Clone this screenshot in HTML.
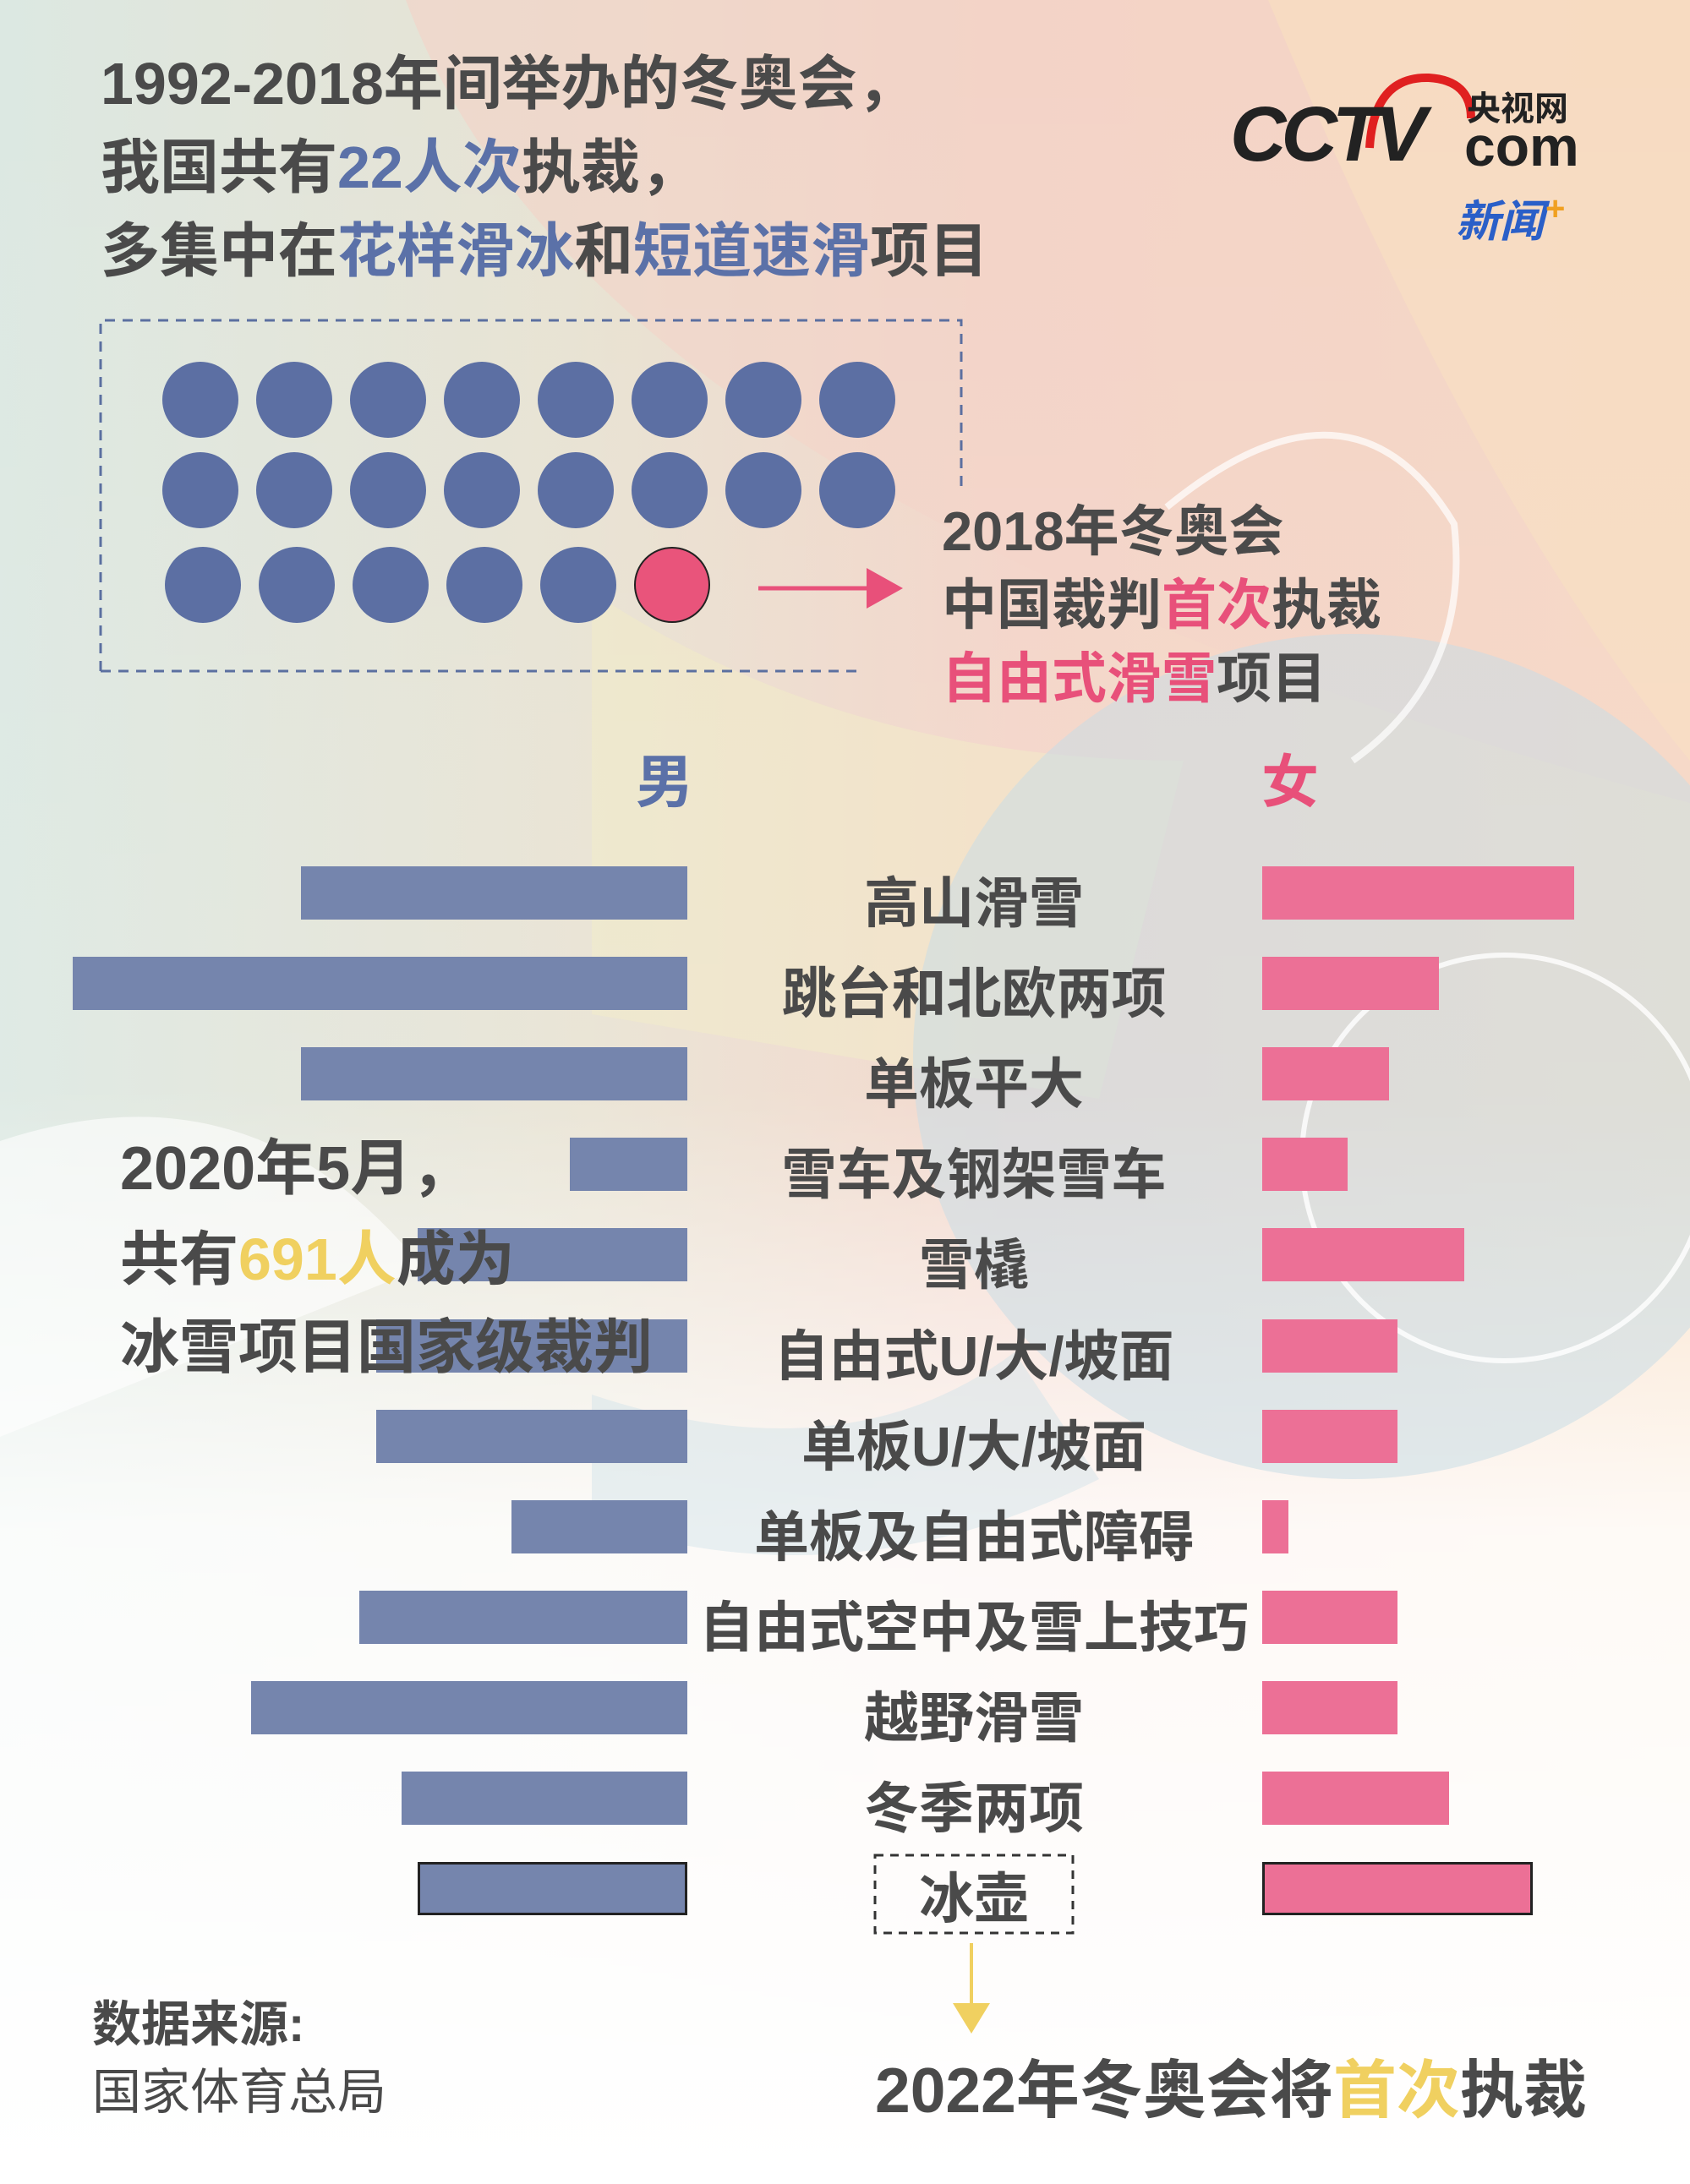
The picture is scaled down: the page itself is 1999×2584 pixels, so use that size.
<!DOCTYPE html>
<html><head><meta charset="utf-8"><style>
*{margin:0;padding:0;box-sizing:border-box}
body{width:1999px;height:2584px;position:relative;overflow:hidden;font-family:"Liberation Sans","Noto Sans CJK SC",sans-serif;font-weight:bold;color:#4a4a4a;background:#f4f6f6}
.a{position:absolute;white-space:nowrap}
.bg{position:absolute;inset:0}
.dot{position:absolute;width:90px;height:90px;border-radius:50%;background:#5c6fa3}
.bm{position:absolute;height:63px;background:#7585ad}
.bf{position:absolute;height:63px;background:#ec7096;left:1493px}
.lb{position:absolute;font-size:65px;width:800px;left:752px;text-align:center;line-height:63px}
.b{color:#5b71a8}.p{color:#e8507a}.y{color:#f0d060}
</style></head><body>
<svg class="bg" width="1999" height="2584">
<defs>
<linearGradient id="g1" x1="0" y1="0" x2="1" y2="0"><stop offset="0" stop-color="#dce8e2"/><stop offset="0.35" stop-color="#e8e2d2"/><stop offset="0.6" stop-color="#f3d4c8"/><stop offset="1" stop-color="#f8dcc0"/></linearGradient>
<linearGradient id="g2" x1="0" y1="0" x2="0" y2="1"><stop offset="0" stop-color="#fff" stop-opacity="0"/><stop offset="0.5" stop-color="#fff" stop-opacity="0.1"/><stop offset="0.7" stop-color="#fff" stop-opacity="0.85"/><stop offset="1" stop-color="#fff" stop-opacity="1"/></linearGradient>
</defs>
<rect width="1999" height="2584" fill="url(#g1)"/>
<path d="M480 0 Q700 600 1999 950 L1999 0Z" fill="#f3d2c6" opacity="0.6"/>
<path d="M1500 0 Q1750 600 1999 900 L1999 0Z" fill="#f8dcc0" opacity="0.8"/>
<path d="M700 700 Q1000 900 1400 900 L1300 1300 L700 1200Z" fill="#f2ecc4" opacity="0.5"/>
<rect width="1999" height="2584" fill="url(#g2)"/>
<ellipse cx="1600" cy="1250" rx="520" ry="500" fill="#c9dde6" opacity="0.55"/>
<circle cx="1780" cy="1370" r="240" fill="none" stroke="#fff" stroke-width="6" opacity="0.8"/>
<path d="M1380 600 Q1600 420 1720 620 Q1740 800 1600 900" fill="none" stroke="#fff" stroke-width="8" opacity="0.7"/>
<path d="M700 1650 Q1000 1750 1200 1600 L1300 1750 Q1000 1900 700 1800Z" fill="#d4e3ea" opacity="0.5"/>
<path d="M0 1350 Q300 1250 500 1500 L0 1700Z" fill="#fff" opacity="0.6"/>
</svg>

<div class="a" style="left:119px;top:60px;font-size:70px;line-height:78px">1992-2018年间举办的冬奥会，</div>
<div class="a" style="left:119px;top:159px;font-size:70px;line-height:78px">我国共有<span class="b">22人次</span>执裁，</div>
<div class="a" style="left:119px;top:258px;font-size:70px;line-height:78px">多集中在<span class="b">花样滑冰</span>和<span class="b">短道速滑</span>项目</div>

<svg class="a" style="left:1440px;top:80px" width="440" height="240">
<path d="M180 95 Q185 10 250 12 Q300 15 300 60" fill="none" stroke="#e02020" stroke-width="10"/>
<text x="15" y="110" font-family="Liberation Sans" font-weight="bold" font-size="92" fill="#222" letter-spacing="-6" font-style="italic">CCTV</text>
<text x="295" y="62" font-family="Noto Sans CJK SC" font-weight="bold" font-size="40" fill="#222">央视网</text>
<text x="292" y="116" font-family="Liberation Sans" font-size="66" fill="#222">com</text>
<text x="282" y="200" font-family="Noto Sans CJK SC" font-weight="bold" font-style="italic" font-size="52" fill="#2a5fc8">新闻</text>
<text x="388" y="180" font-family="Liberation Sans" font-weight="bold" font-size="40" fill="#f0a020">+</text>
</svg>

<svg class="a" style="left:0;top:0" width="1999" height="1100">
<path d="M119 794 L119 379 L1137 379 L1137 580" fill="none" stroke="#5b6fa0" stroke-width="3" stroke-dasharray="12 9"/>
<path d="M119 794 L1013 794" fill="none" stroke="#5b6fa0" stroke-width="3" stroke-dasharray="12 9"/>
<line x1="897" y1="696" x2="1040" y2="696" stroke="#e8507a" stroke-width="5"/>
<path d="M1025 672 L1068 696 L1025 720Z" fill="#e8507a"/>
</svg>

<div id="dots"></div>
<script>
var h='';
for(var r=0;r<2;r++)for(var i=0;i<8;i++)h+='<div class="dot" style="left:'+(192+111*i)+'px;top:'+(428+107*r)+'px"></div>';
for(var i=0;i<6;i++)h+='<div class="dot" style="left:'+(195+111*i)+'px;top:647px;'+(i==5?'background:#e9547b;border:2px solid #222':'')+'"></div>';
document.getElementById('dots').innerHTML=h;
</script>

<div class="a" style="left:1114px;top:592px;font-size:65px;line-height:74px">2018年冬奥会</div>
<div class="a" style="left:1114px;top:679px;font-size:65px;line-height:74px">中国裁判<span class="p">首次</span>执裁</div>
<div class="a" style="left:1114px;top:766px;font-size:65px;line-height:74px"><span class="p">自由式滑雪</span>项目</div>

<div class="a b" style="left:752px;top:870px;font-size:68px">男</div>
<div class="a p" style="left:1492px;top:870px;font-size:68px">女</div>

<div id="bars"></div>
<script>
var ml=[356,86,356,674,494,445,445,605,425,297,475,494];
var fr=[1862,1702,1643,1594,1732,1653,1653,1524,1653,1653,1714,1813];
var lb=["高山滑雪","跳台和北欧两项","单板平大","雪车及钢架雪车","雪橇","自由式U/大/坡面","单板U/大/坡面","单板及自由式障碍","自由式空中及雪上技巧","越野滑雪","冬季两项","冰壶"];
var h='';
for(var i=0;i<12;i++){var t=1025+107.1*i;var bd=i==11?'border:3px solid #222;':'';
h+='<div class="bm" style="'+bd+'left:'+ml[i]+'px;width:'+(813-ml[i])+'px;top:'+t+'px"></div>';
h+='<div class="bf" style="'+bd+'width:'+(fr[i]-1493)+'px;top:'+t+'px"></div>';
h+='<div class="lb" style="top:'+(t+12)+'px">'+lb[i]+'</div>';}
document.getElementById('bars').innerHTML=h;
</script>

<div class="a" style="left:142px;top:1342px;font-size:72px;line-height:82px">2020年5月，</div>
<div class="a" style="left:142px;top:1449px;font-size:70px;line-height:82px">共有<span class="y">691人</span>成为</div>
<div class="a" style="left:142px;top:1553px;font-size:70px;line-height:82px">冰雪项目国家级裁判</div>

<svg class="a" style="left:0;top:2180px" width="1999" height="250">
<rect x="1035" y="15" width="234" height="92" fill="none" stroke="#333" stroke-width="3" stroke-dasharray="10 8"/>
<line x1="1149" y1="119" x2="1149" y2="195" stroke="#f0d060" stroke-width="4"/>
<path d="M1127 190 L1171 190 L1149 226Z" fill="#f0d060"/>
</svg>

<div class="a" style="left:109px;top:2348px;font-size:58px">数据来源:</div>
<div class="a" style="left:109px;top:2428px;font-size:58px;font-weight:normal">国家体育总局</div>
<div class="a" style="left:1035px;top:2412px;font-size:75px">2022年冬奥会将<span class="y">首次</span>执裁</div>
</body></html>
